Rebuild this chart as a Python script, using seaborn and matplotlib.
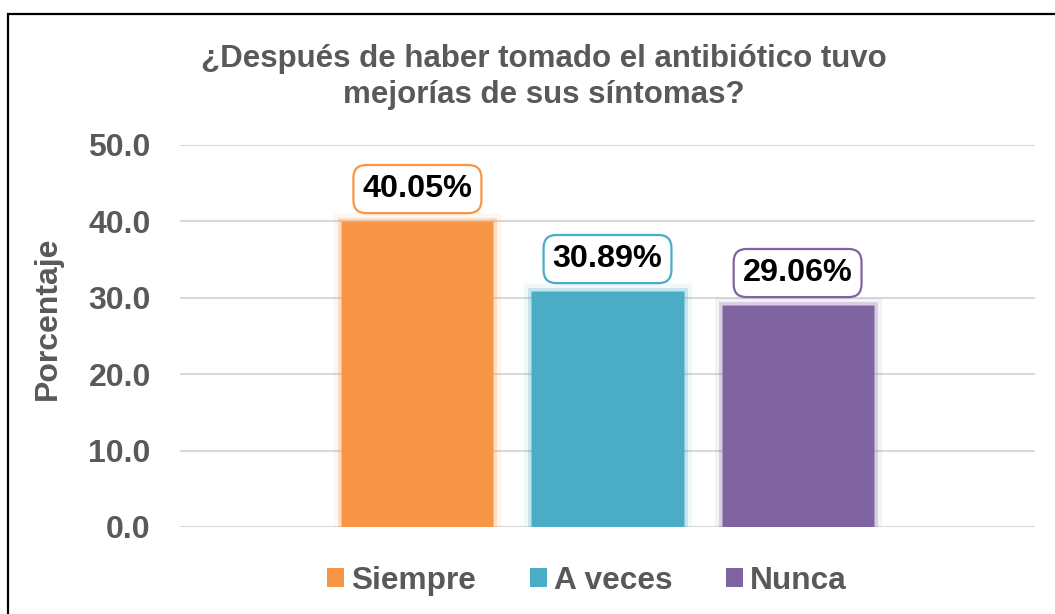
import matplotlib
matplotlib.use("Agg")
import matplotlib.pyplot as plt
from matplotlib.patches import Patch, Rectangle
import seaborn as sns
import pandas as pd

# Datos
respuestas = ["Siempre", "A veces", "Nunca"]
porcentajes = [40.05, 30.89, 29.06]
colores = ["#F79646", "#4BACC6", "#8064A2"]
y_ticks = [0, 10, 20, 30, 40, 50]

TITULO = "¿Después de haber tomado el antibiótico tuvo\nmejorías de sus síntomas?"
GRIS = "#595959"

df = pd.DataFrame({"grupo": [""] * len(respuestas),
                   "Respuesta": respuestas,
                   "Porcentaje": porcentajes})

sns.set_theme(style="white")
plt.rcParams["font.family"] = ["Liberation Sans", "DejaVu Sans"]
plt.rcParams["font.weight"] = "bold"

fig = plt.figure(figsize=(10.55, 6.14), dpi=100)
ax = fig.add_axes([180 / 1055, 1 - 527 / 614, (1035 - 180) / 1055, (527 - 145) / 614])

sns.barplot(data=df, x="grupo", y="Porcentaje", hue="Respuesta",
            palette=colores, width=0.667, gap=0.2, legend=False, ax=ax,
            saturation=1, zorder=3)

# brillo suave alrededor de las barras (dos capas)
for patch, c in zip(ax.patches, colores):
    patch.set_edgecolor(matplotlib.colors.to_rgba(c, 0.25))
    patch.set_linewidth(5)
    glow = Rectangle(patch.get_xy(), patch.get_width(), patch.get_height(),
                     fill=False, ec=matplotlib.colors.to_rgba(c, 0.08), lw=11, zorder=2)
    ax.add_patch(glow)

ax.set_ylim(0, 50)
ax.set_xlim(-0.5, 0.5)
ax.set_yticks(y_ticks)
ax.set_yticklabels([f"{v:.1f}" for v in y_ticks])
ax.tick_params(axis="y", length=0, pad=21, labelsize=23, labelcolor=GRIS)
ax.set_xticks([])
ax.set_xlabel("")
ax.set_ylabel("Porcentaje", fontsize=23, color=GRIS, fontweight="bold")
ax.yaxis.set_label_coords(-117 / 855, (527 - 318) / 382)
ax.grid(axis="y", color="#D9D9D9", linewidth=1.5, zorder=0)
ax.set_axisbelow(True)
for s in ax.spines.values():
    s.set_visible(False)

# etiquetas de datos con recuadro
for patch, val, c in zip(ax.patches[:len(porcentajes)], porcentajes, colores):
    xc = patch.get_x() + patch.get_width() / 2
    ax.annotate(f"{val:.2f}%", (xc, val), xytext=(0, 23), textcoords="offset points",
                ha="center", va="center", fontsize=23.3, fontweight="bold", color="black",
                bbox=dict(boxstyle="round,pad=0.28,rounding_size=0.4", fc="white", ec=c, lw=1.6),
                zorder=5)

fig.text(544 / 1055, 1 - 77 / 614, TITULO, ha="center", va="center", fontsize=22.5,
         fontweight="bold", color=GRIS, linespacing=1.25)

handles = [Patch(facecolor=c, edgecolor="none") for c in colores]
fig.legend(handles, respuestas, loc="center", bbox_to_anchor=(587 / 1055, 1 - 581 / 614),
           ncol=3, frameon=False, fontsize=22.8, labelcolor=GRIS,
           handlelength=0.54, handleheight=0.54, handletextpad=0.22, columnspacing=1.7)

# borde del gráfico
fig.add_artist(Rectangle((8 / 1055, -0.1), 1.2, 1 - 14 / 614 + 0.1, transform=fig.transFigure,
                         fill=False, ec="black", lw=1.6))

fig.savefig("out.png", dpi=100)
